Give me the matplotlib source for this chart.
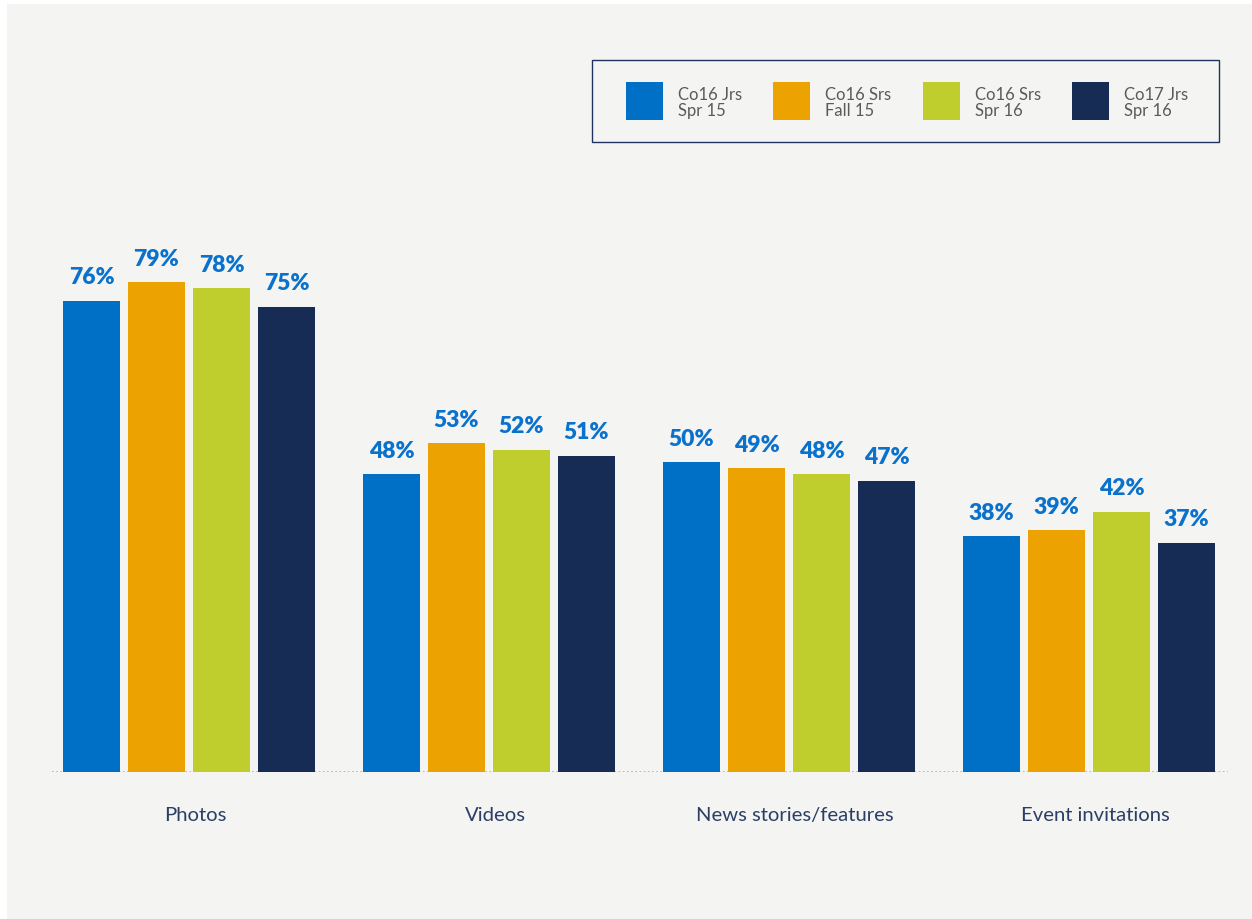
import matplotlib
matplotlib.use("Agg")
import matplotlib.pyplot as plt
import matplotlib.transforms as mtransforms
from matplotlib.patches import Patch, Rectangle
import numpy as np

categories = ["Photos", "Videos", "News stories/features", "Event invitations"]
series_names = ["Co16 Jrs\nSpr 15", "Co16 Srs\nFall 15", "Co16 Srs\nSpr 16", "Co17 Jrs\nSpr 16"]
co16_jrs_spr15 = [76, 48, 50, 38]
co16_srs_fall15 = [79, 53, 49, 39]
co16_srs_spr16 = [78, 52, 48, 42]
co17_jrs_spr16 = [75, 51, 47, 37]

series_values = [co16_jrs_spr15, co16_srs_fall15, co16_srs_spr16, co17_jrs_spr16]
colors = ["#0070c6", "#eca200", "#bfce2c", "#172c55"]

W, H = 1252, 919
fig = plt.figure(figsize=(W / 100, H / 100), dpi=100, facecolor="white")

# light panel behind the chart
panel = Rectangle((7 / W, 0), 1 - 7 / W, 1 - 4 / H, transform=fig.transFigure,
                  facecolor="#f4f4f2", edgecolor="none", zorder=-5)
fig.patches.append(panel)

ax = fig.add_axes([52 / W, 147 / H, 1176 / W, 620 / H], zorder=2)
ax.set_facecolor("none")

x = np.arange(len(categories))
step = 65 / 300
width = 57 / 300
for i, (vals, col) in enumerate(zip(series_values, colors)):
    offs = (i - 1.5) * step
    bars = ax.bar(x + offs, vals, width=width, color=col, zorder=2)
    for b, v in zip(bars, vals):
        ax.annotate(f"{v}%", (b.get_x() + b.get_width() / 2, v),
                    xytext=(0, 9), textcoords="offset points",
                    ha="center", va="bottom", fontsize=16.5,
                    fontweight="heavy", family="Lato", color="#0a72cc")

ax.set_xlim(-137 / 300, 1039 / 300)
ax.set_ylim(0, 100)
ax.axhline(0, color="#a9b0bf", lw=1.2, ls=(0, (1, 1.5)), zorder=1)

for s in ax.spines.values():
    s.set_visible(False)
ax.set_yticks([])
ax.set_xticks(x)
ax.set_xticklabels(categories, fontsize=14.6, family="Lato", color="#2b3f66")
ax.tick_params(axis="x", length=0, pad=25)
shift = mtransforms.ScaledTranslation(6 / 100, 0, fig.dpi_scale_trans)
for lbl in ax.get_xticklabels():
    lbl.set_transform(lbl.get_transform() + shift)

# legend box outline
fig.patches.append(Rectangle((592 / W, 1 - 142 / H), 627 / W, 82 / H,
                             transform=fig.transFigure, facecolor="none",
                             edgecolor="#1f335e", lw=1.0, zorder=3))

handles = [Patch(facecolor=c, edgecolor="none") for c in colors]
leg = fig.legend(handles, series_names, ncol=4, loc="upper left",
                 bbox_to_anchor=(626 / W, 1 - 82 / H),
                 bbox_transform=fig.transFigure,
                 prop={"family": "Lato", "size": 12},
                 labelcolor="#5a5a5a", frameon=False,
                 handlelength=2.2, handleheight=3.13, handletextpad=0.9,
                 columnspacing=1.9, borderpad=0, borderaxespad=0,
                 labelspacing=0.2)
for t in leg.get_texts():
    t.set_linespacing(1.0)
    t.set_y(-4)

fig.savefig("out.png", dpi=100, facecolor="white")
